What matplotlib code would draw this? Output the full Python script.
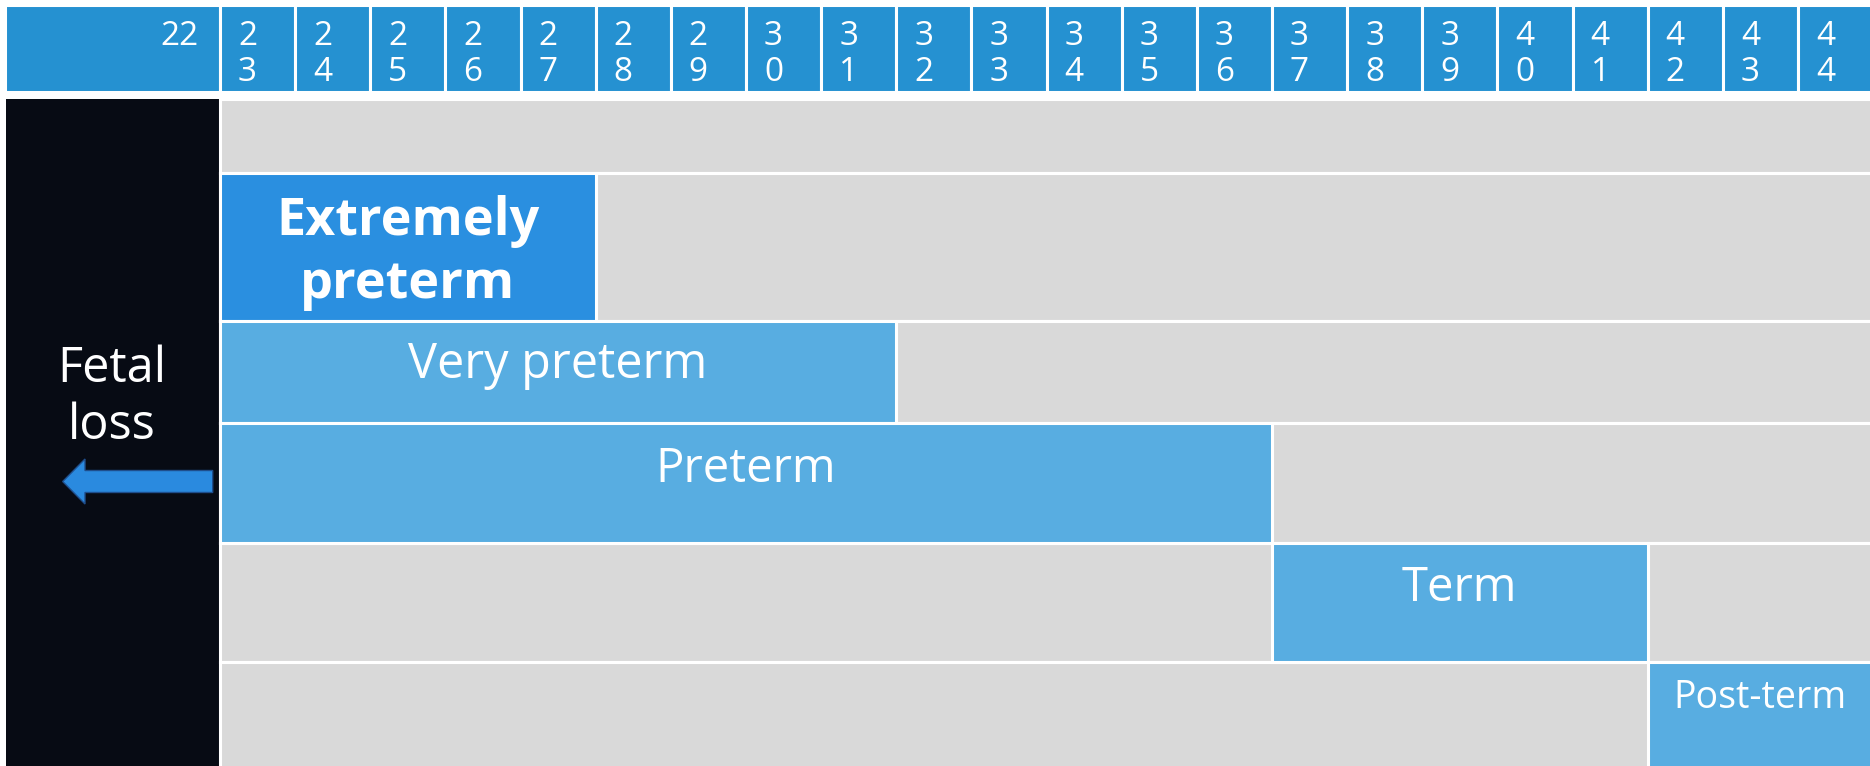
import numpy as np
import matplotlib
matplotlib.use("Agg")
import matplotlib.pyplot as plt

plt.rcParams['font.family'] = ['Open Sans', 'DejaVu Sans']

# gestational weeks shown in the header
weeks = np.arange(22, 45)
week_labels = [str(w) for w in weeks]

# birth categories and the week span each one covers (end exclusive)
categories = ["Extremely\npreterm", "Very preterm", "Preterm", "Term", "Post-term"]
start_week = np.array([23, 23, 23, 37, 42])
end_week = np.array([28, 32, 37, 42, 45])
side_label = "Fetal\nloss"

# layout (x in weeks, y in pixels from the top)
col_px = 75.14
x0_px = 220
def px2wk(px):
    return 23 + (px - x0_px) / col_px

row_edges = np.array([99, 172.5, 321, 423, 543, 662, 775])
row_centers = (row_edges[:-1] + row_edges[1:]) / 2
row_heights = np.diff(row_edges)
label_base = [62.5, 56.7, 58.7, 57.7, 46.3]   # first baseline below row top
label_size = [37.5, 35, 34, 34, 27]
label_weight = ['bold', 'normal', 'normal', 'normal', 'normal']

c_head = '#2591D1'
c_dark = '#2A8FE0'
c_light = '#58ADE1'
c_grey = '#D9D9D9'
c_black = '#070B14'

fig = plt.figure(figsize=(18.7, 7.66), dpi=100)
ax = fig.add_axes([0, 0, 1, 1])
ax.set_xlim(px2wk(0), px2wk(1870))
ax.set_ylim(766, 0)
ax.axis('off')

# header row
ax.bar(px2wk(4.5), 87, width=px2wk(220) - px2wk(4.5), bottom=4.5, align='edge',
       color=c_head, edgecolor='white', linewidth=2.2)
ax.bar(weeks[1:], 87, width=1, bottom=4.5, align='edge',
       color=c_head, edgecolor='white', linewidth=2.2)
ax.text(px2wk(199), 45, week_labels[0], ha='right', va='baseline',
        color='white', fontsize=24)
for w, lab in zip(weeks[1:], week_labels[1:]):
    ax.text(w + 18 / col_px, 45, lab[0], ha='left', va='baseline', color='white', fontsize=24)
    ax.text(w + 18 / col_px, 81, lab[1], ha='left', va='baseline', color='white', fontsize=24)

# fetal loss block with arrow
ax.bar(px2wk(6), 700, width=px2wk(218.5) - px2wk(6), bottom=99, align='edge',
       color=c_black, linewidth=0)
for i, line in enumerate(side_label.split('\n')):
    ax.text(px2wk(112), 381.7 + i * 57.6, line, ha='center', va='baseline',
            color='white', fontsize=35)
ax.arrow(px2wk(212.7), 481.5, px2wk(62.7) - px2wk(212.7), 0, width=22, head_width=45,
         head_length=px2wk(85) - px2wk(62.7), length_includes_head=True,
         fc='#2A8ADF', ec='#1F4E8C', linewidth=1)

# grey background rows
ax.barh(row_centers, 45.5 - 23, left=23, height=row_heights,
        color=c_grey, edgecolor='white', linewidth=2.2)

# category bands
band_colors = [c_dark] + [c_light] * (len(categories) - 1)
ax.barh(row_centers[1:], end_week - start_week, left=start_week, height=row_heights[1:],
        color=band_colors, edgecolor='white', linewidth=2.2)

for i, lab in enumerate(categories):
    top = row_edges[i + 1]
    xc = (start_week[i] + end_week[i]) / 2
    for j, line in enumerate(lab.split('\n')):
        ax.text(xc, top + label_base[i] + j * 63, line, ha='center', va='baseline',
                color='white', fontsize=label_size[i], fontweight=label_weight[i])

fig.savefig('out.png', dpi=100)
